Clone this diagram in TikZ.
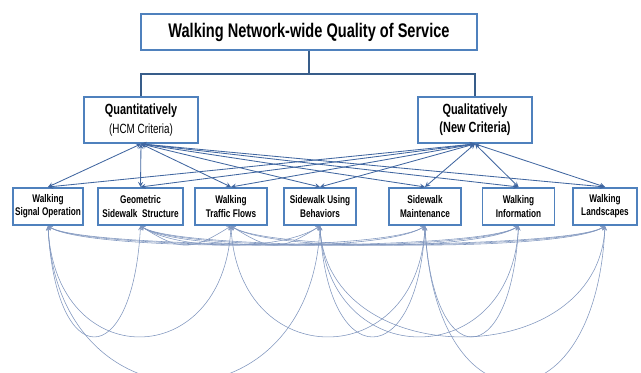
\documentclass[tikz,border=0pt]{standalone}
\usepackage{fontspec}
\setmainfont[FakeStretch=0.74]{Liberation Sans}
\definecolor{boxblue}{RGB}{79,129,189}
\definecolor{linkblue}{RGB}{64,102,160}
\definecolor{treeblue}{RGB}{56,93,138}
\definecolor{curveblue}{RGB}{128,150,190}
\begin{document}
\begin{tikzpicture}[x=0.025cm,y=-0.025cm,>=stealth,
  box/.style={draw=boxblue,line width=1.3pt,fill=white,align=center,inner sep=1pt},
  crit/.style={box,minimum width=1.8cm,minimum height=0.93cm,font=\fontsize{7.9}{9.4}\selectfont\bfseries},
  tree/.style={draw=treeblue,line width=1.1pt},
  updown/.style={<->,draw=linkblue,line width=0.6pt},
  link/.style={<->,draw=curveblue,line width=0.4pt}]
\useasboundingbox (0,0) rectangle (641,373);
\node[box,minimum width=8.4cm,minimum height=0.9cm,font=\fontsize{14}{16}\selectfont\bfseries] (top) at (309,32) {Walking Network-wide Quality of Service};
\node[box,minimum width=2.85cm,minimum height=1.15cm] (quant) at (141,120) {\fontsize{10.5}{12}\selectfont\bfseries Quantitatively\\[1pt]\fontsize{9.5}{11}\selectfont (HCM Criteria)};
\node[box,minimum width=2.85cm,minimum height=1.15cm,font=\fontsize{10.5}{12}\selectfont\bfseries] (qual) at (475,120) {Qualitatively\\[1pt](New Criteria)};
\node[crit,minimum width=1.75cm] (b1) at (48,206.5) {Walking\\Signal Operation};
\node[crit,minimum width=2.12cm] (b2) at (140.5,206.5) {Geometric\\Sidewalk\ \ Structure};
\node[crit] (b3) at (231,206.5) {Walking\\Traffic Flows};
\node[crit] (b4) at (320,206.5) {Sidewalk Using\\Behaviors};
\node[crit] (b5) at (425,206.5) {Sidewalk\\Maintenance};
\node[crit] (b6) at (518.5,206.5) {Walking\\Information};
\node[crit,minimum width=1.6cm] (b7) at (605,206.5) {Walking\\Landscapes};
% tree
\draw[tree] (top.south) -- ++(0,23) -| (quant.north);
\draw[tree] (top.south) -- ++(0,23) -| (qual.north);
% criteria links
\foreach \b in {b1,b2,b3,b4,b5,b6,b7} {
  \draw[updown] (quant.south) -- (\b.north);
  \draw[updown] (qual.south) -- (\b.north);
}
% flat links
\foreach \a/\b in {b1/b5,b1/b6,b1/b7,b2/b3,b2/b4,b2/b5,b2/b6,b2/b7,b3/b4,b3/b6,b3/b7}
  \draw[link] (\a.south) .. controls +(40,25) and +(-40,25) .. (\b.south);
% deep links
\foreach \a/\b in {b1/b2,b1/b3,b3/b5,b4/b5,b4/b6,b4/b7,b5/b6}
  \draw[link] (\a.south) .. controls +(8,147) and +(-8,147) .. (\b.south);
\foreach \a/\b in {b1/b4,b5/b7}
  \draw[link] (\a.south) .. controls +(10,207) and +(-10,207) .. (\b.south);
\end{tikzpicture}
\end{document}
